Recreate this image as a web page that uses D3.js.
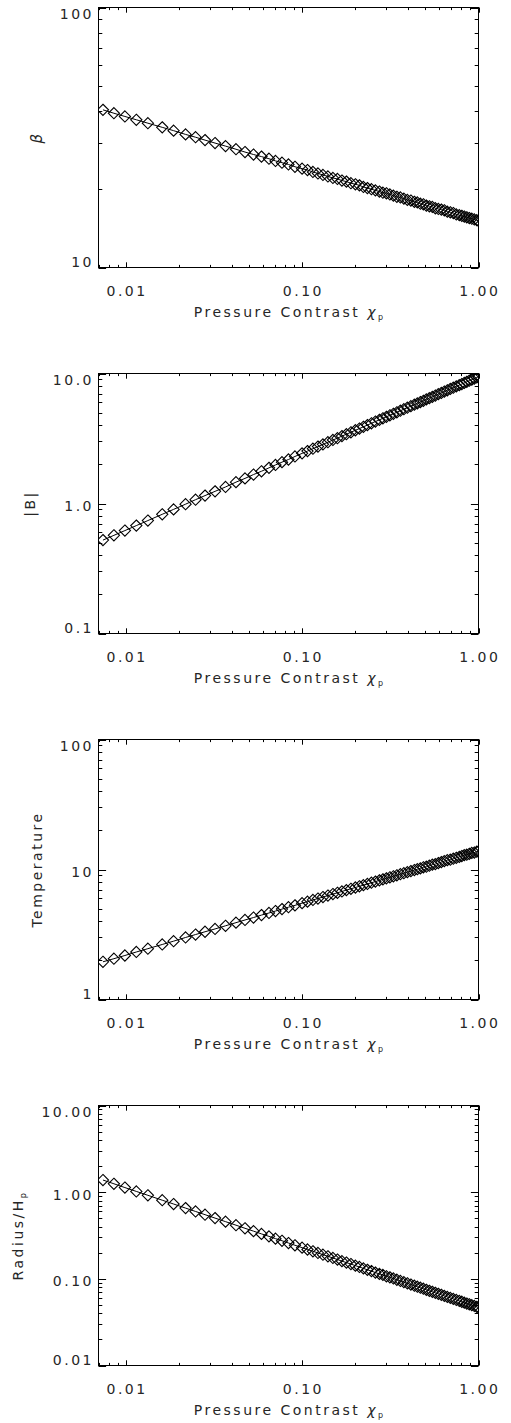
<!DOCTYPE html>
<html>
<head>
<meta charset="utf-8">
<script src="https://cdn.jsdelivr.net/npm/d3@7"></script>
<style>
  body { margin: 0; background: #fff; }
  text { font-family: "DejaVu Sans", sans-serif; fill: #262626; }
</style>
</head>
<body>
<script>
// pressure contrast (x) shared by all four panels
var chi = [0.00742, 0.00856, 0.00988, 0.01147, 0.01334, 0.01609, 0.01866, 0.02182, 0.02486, 0.02813,
  0.03206, 0.03677, 0.04215, 0.04741, 0.05298, 0.05879, 0.06484, 0.07059, 0.07685, 0.08364,
  0.09104, 0.0999, 0.1072, 0.1151, 0.1229, 0.1312, 0.1400, 0.1494, 0.1585, 0.1681,
  0.1782, 0.1890, 0.2004, 0.2112, 0.2225, 0.2344, 0.2470, 0.2602, 0.2742, 0.2870,
  0.3004, 0.3144, 0.3291, 0.3444, 0.3606, 0.3774, 0.3950, 0.4135, 0.4328, 0.4501,
  0.4681, 0.4868, 0.5062, 0.5264, 0.5474, 0.5692, 0.5919, 0.6155, 0.6400, 0.6656,
  0.6921, 0.7197, 0.7484, 0.7783, 0.8041, 0.8308, 0.8583, 0.8867, 0.9163, 0.9467,
  0.9781, 1.0]

var beta = [40.4, 39.2, 38.1, 37.0, 35.9, 34.6, 33.6, 32.5, 31.7, 30.9,
  30.1, 29.3, 28.5, 27.8, 27.2, 26.7, 26.2, 25.7, 25.3, 24.9,
  24.4, 24.0, 23.7, 23.3, 23.0, 22.7, 22.4, 22.1, 21.9, 21.6,
  21.4, 21.1, 20.9, 20.7, 20.4, 20.2, 20.0, 19.8, 19.6, 19.4,
  19.3, 19.1, 18.9, 18.7, 18.6, 18.4, 18.2, 18.1, 17.9, 17.8,
  17.6, 17.5, 17.3, 17.2, 17.1, 16.9, 16.8, 16.7, 16.6, 16.4,
  16.3, 16.2, 16.0, 15.9, 15.8, 15.7, 15.6, 15.5, 15.4, 15.3,
  15.2, 15.1]

var bmag = [0.523, 0.569, 0.619, 0.676, 0.739, 0.826, 0.901, 0.988, 1.07, 1.15,
  1.24, 1.34, 1.46, 1.56, 1.67, 1.77, 1.88, 1.98, 2.08, 2.18,
  2.30, 2.43, 2.53, 2.64, 2.74, 2.85, 2.96, 3.08, 3.18, 3.30,
  3.41, 3.53, 3.66, 3.77, 3.89, 4.01, 4.14, 4.27, 4.40, 4.52,
  4.64, 4.77, 4.90, 5.03, 5.17, 5.31, 5.46, 5.61, 5.76, 5.89,
  6.03, 6.17, 6.32, 6.46, 6.61, 6.77, 6.93, 7.09, 7.26, 7.43,
  7.60, 7.78, 7.96, 8.14, 8.30, 8.46, 8.63, 8.80, 8.97, 9.14,
  9.32, 9.44]

var temp = [1.95, 2.06, 2.18, 2.32, 2.46, 2.65, 2.81, 3.00, 3.16, 3.32,
  3.49, 3.69, 3.90, 4.09, 4.27, 4.46, 4.63, 4.79, 4.96, 5.13,
  5.30, 5.51, 5.66, 5.83, 5.98, 6.14, 6.30, 6.47, 6.62, 6.78,
  6.94, 7.11, 7.27, 7.43, 7.58, 7.74, 7.91, 8.07, 8.25, 8.40,
  8.55, 8.71, 8.87, 9.03, 9.20, 9.37, 9.54, 9.72, 9.90, 10.05,
  10.2, 10.4, 10.5, 10.7, 10.9, 11.0, 11.2, 11.4, 11.6, 11.8,
  11.9, 12.1, 12.3, 12.5, 12.7, 12.9, 13.0, 13.2, 13.4, 13.5,
  13.7, 13.8]

var radius = [1.38, 1.25, 1.13, 1.02, 0.920, 0.808, 0.730, 0.655, 0.599, 0.550,
  0.502, 0.457, 0.416, 0.383, 0.355, 0.330, 0.309, 0.291, 0.275, 0.259,
  0.244, 0.229, 0.218, 0.208, 0.199, 0.190, 0.182, 0.174, 0.167, 0.160,
  0.154, 0.148, 0.142, 0.137, 0.132, 0.127, 0.123, 0.118, 0.114, 0.111,
  0.107, 0.104, 0.101, 0.0976, 0.0946, 0.0916, 0.0888, 0.0860, 0.0834, 0.0811,
  0.0790, 0.0769, 0.0748, 0.0728, 0.0709, 0.0690, 0.0672, 0.0654, 0.0636, 0.0619,
  0.0603, 0.0587, 0.0571, 0.0556, 0.0544, 0.0531, 0.0519, 0.0508, 0.0497, 0.0486,
  0.0475, 0.0468]

// tick labels
var xDomain = [0.007, 1]
var xTicks = [0.01, 0.1, 1]
var xTickLabels = ['0.01', '0.10', '1.00']

var betaDomain = [10, 100], betaTicks = [10, 100], betaLabels = ['10', '100']
var bDomain = [0.1, 10], bTicks = [0.1, 1, 10], bLabels = ['0.1', '1.0', '10.0']
var tDomain = [1, 100], tTicks = [1, 10, 100], tLabels = ['1', '10', '100']
var rDomain = [0.01, 10], rTicks = [0.01, 0.1, 1, 10], rLabels = ['0.01', '0.10', '1.00', '10.00']

var panels = [
  {values: beta, domain: betaDomain, ticks: betaTicks, labels: betaLabels, title: [{t: 'β', italic: true}]},
  {values: bmag, domain: bDomain, ticks: bTicks, labels: bLabels, title: [{t: '|B|'}]},
  {values: temp, domain: tDomain, ticks: tTicks, labels: tLabels, title: [{t: 'Temperature'}]},
  {values: radius, domain: rDomain, ticks: rTicks, labels: rLabels, title: [{t: 'Radius/H'}, {t: 'p', sub: true}]}
]

var W = 511, H = 1423
var left = 98.5, plotW = 380, plotH = 260, firstTop = 7.5, step = 366
var ls = 2.5  // wide Hershey-like spacing

var svg = d3.select('body').append('svg').attr('width', W).attr('height', H)
svg.append('rect').attr('width', W).attr('height', H).attr('fill', '#fff')

function isMajor(t){ var l = Math.log10(t); return Math.abs(l - Math.round(l)) < 1e-6 }
function diamond(r){ return 'M0,' + (-r) + 'L' + r + ',0L0,' + r + 'L' + (-r) + ',0Z' }

panels.forEach(function(p, i){
  var top = firstTop + i * step, bottom = top + plotH, right = left + plotW
  var x = d3.scaleLog().domain(xDomain).range([left, right])
  var y = d3.scaleLog().domain(p.domain).range([bottom, top])
  var g = svg.append('g')

  g.append('clipPath').attr('id', 'clip' + i)
    .append('rect').attr('x', left).attr('y', top).attr('width', plotW).attr('height', plotH)

  var pts = chi.map(function(c, j){ return [c, p.values[j]] })
  var plot = g.append('g').attr('clip-path', 'url(#clip' + i + ')')

  plot.append('path')
    .attr('d', d3.line().x(function(d){ return x(d[0]) }).y(function(d){ return y(d[1]) })(pts))
    .attr('fill', 'none').attr('stroke', '#000').attr('stroke-width', 1)

  plot.selectAll('path.sym').data(pts).enter().append('path')
    .attr('class', 'sym')
    .attr('transform', function(d){ return 'translate(' + x(d[0]) + ',' + y(d[1]) + ')' })
    .attr('d', diamond(5.6))
    .attr('fill', 'none').attr('stroke', '#000').attr('stroke-width', 1.1)

  // ticks, inward on all four sides
  var tk = g.append('g').attr('stroke', '#000').attr('stroke-width', 1)
  x.ticks().forEach(function(t){
    var len = isMajor(t) ? 5.2 : 2.6, px = Math.round(x(t)) + 0.5
    tk.append('line').attr('x1', px).attr('x2', px).attr('y1', bottom).attr('y2', bottom - len)
    tk.append('line').attr('x1', px).attr('x2', px).attr('y1', top).attr('y2', top + len)
  })
  y.ticks().forEach(function(t){
    var len = isMajor(t) ? 7.6 : 3.8, py = Math.round(y(t)) + 0.5
    tk.append('line').attr('x1', left).attr('x2', left + len).attr('y1', py).attr('y2', py)
    tk.append('line').attr('x1', right).attr('x2', right - len).attr('y1', py).attr('y2', py)
  })

  g.append('rect').attr('x', left).attr('y', top).attr('width', plotW).attr('height', plotH)
    .attr('fill', 'none').attr('stroke', '#000').attr('stroke-width', 1)

  // x tick labels
  xTicks.forEach(function(t, j){
    g.append('text').attr('x', x(t) + ls / 2).attr('y', bottom + 28)
      .attr('text-anchor', 'middle').style('font-size', '14px').style('letter-spacing', ls + 'px')
      .text(xTickLabels[j])
  })

  // y tick labels, kept inside the plot's vertical range
  var yl = g.append('g')
  p.ticks.forEach(function(t, j){
    var base = Math.max(top + 11.5, Math.min(bottom - 0.5, y(t) + 7.5))
    yl.append('text').attr('x', left - 7 + ls).attr('y', base)
      .attr('text-anchor', 'end').style('font-size', '14px').style('letter-spacing', ls + 'px')
      .text(p.labels[j])
  })

  // x title
  var xt = g.append('text').attr('x', left + plotW / 2 + ls / 2).attr('y', bottom + 49)
    .attr('text-anchor', 'middle').style('font-size', '14px').style('letter-spacing', ls + 'px')
  xt.append('tspan').text('Pressure Contrast ')
  xt.append('tspan').style('font-style', 'italic').text('χ')
  xt.append('tspan').attr('dy', 3).style('font-size', '8px').text('p')

  // y title, left of the widest tick label
  var lx = yl.node().getBBox().x
  var yt = g.append('text')
    .attr('transform', 'translate(' + (lx - 23) + ',' + (top + plotH / 2) + ') rotate(-90)')
    .attr('dy', '0.36em').attr('text-anchor', 'middle')
    .style('font-size', '14px').style('letter-spacing', ls + 'px')
  p.title.forEach(function(s){
    var ts = yt.append('tspan').text(s.t)
    if (s.italic) ts.style('font-style', 'italic').style('font-size', '15px')
    if (s.sub) ts.attr('dy', 3).style('font-size', '8px')
  })
})
</script>
</body>
</html>
